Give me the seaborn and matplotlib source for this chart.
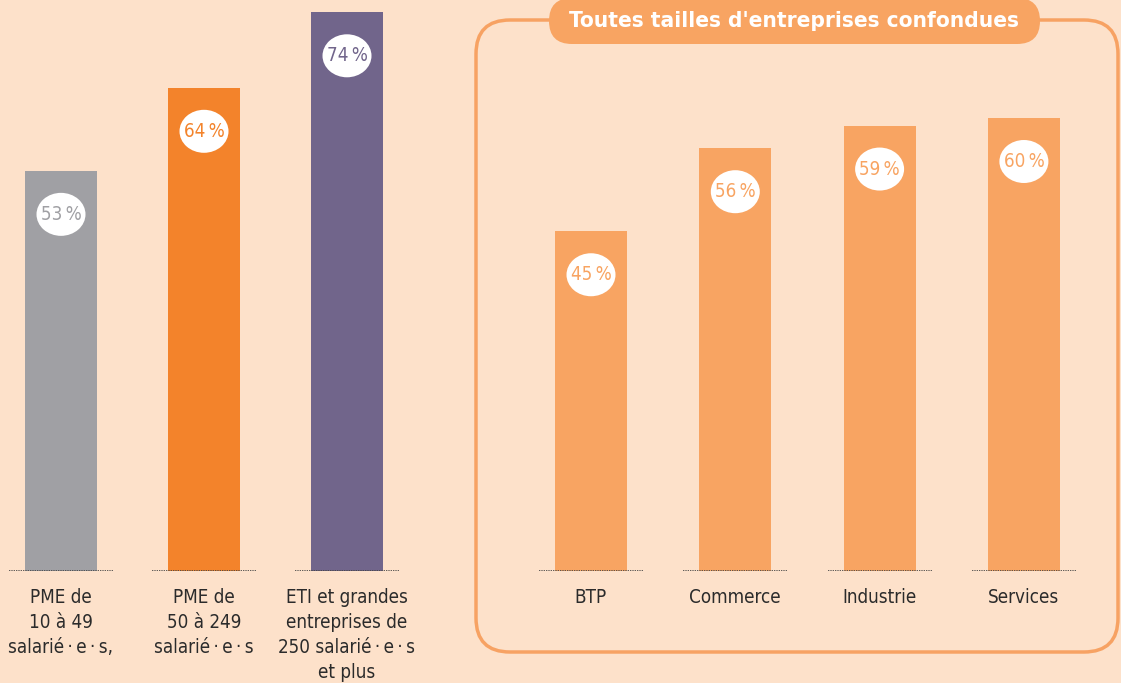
import matplotlib
matplotlib.use("Agg")
from matplotlib import pyplot as plt
from matplotlib.patches import Ellipse, FancyBboxPatch
import seaborn as sns

# left panel: by company size
taille_labels = ["PME de\n10 à 49\nsalarié\u2009·\u2009e\u2009·\u2009s,",
                 "PME de\n50 à 249\nsalarié\u2009·\u2009e\u2009·\u2009s",
                 "ETI et grandes\nentreprises de\n250 salarié\u2009·\u2009e\u2009·\u2009s\net plus"]
taille_values = [53, 64, 74]
taille_colors = ["#A0A0A4", "#F3832B", "#71658B"]

# right panel: by sector
secteur_labels = ["BTP", "Commerce", "Industrie", "Services"]
secteur_values = [45, 56, 59, 60]
secteur_color = "#F8A462"

titre_droite = "Toutes tailles d'entreprises confondues"

BG = "#FDE1CA"
W, H = 1121, 683

sns.set_style("white")
plt.rcParams["font.family"] = ["DejaVu Sans"]
plt.rcParams["font.stretch"] = "condensed"

fig = plt.figure(figsize=(W / 100, H / 100), dpi=100, facecolor=BG)


def px_axes(left, right, top, bottom):
    return fig.add_axes([left / W, 1 - bottom / H, (right - left) / W, (bottom - top) / H])


YMAX = 571 / 7.55


def panel(ax, labels, values, colors, first_center, step, left, right):
    sns.barplot(x=labels, y=values, hue=labels, palette=colors, legend=False,
                width=72 / step, saturation=1, linewidth=0, ax=ax)
    ax.set_xlim((left - first_center) / step, (right - first_center) / step)
    ax.set_ylim(0, YMAX)
    ax.set_facecolor("none")
    sns.despine(ax=ax, left=True, bottom=True)
    ax.set_yticks([])
    ax.set_xlabel("")
    ax.set_ylabel("")
    ax.tick_params(axis="x", length=0, pad=12.5, labelsize=13.5, labelcolor="#2b2b2b")
    for t in ax.get_xticklabels():
        t.set_linespacing(1.4)
    half = 52 / step
    for i, v in enumerate(values):
        ax.hlines(0, i - half, i + half, color="#444444", lw=1.2,
                  linestyle=(0, (0.8, 0.6)), zorder=3)
        cy = v - 43.5 / 7.55
        ax.add_patch(Ellipse((i, cy), 49 / step, 43 / 7.55, facecolor="white",
                             edgecolor="none", zorder=4))
        ax.text(i, cy, f"{v}\u2009%", ha="center", va="center", fontsize=13.5,
                color=colors[i], zorder=5)


ax1 = px_axes(0, 440, 0, 571)
panel(ax1, taille_labels, taille_values, taille_colors, 61, 143, 0, 440)

ax2 = px_axes(480, 1121, 0, 571)
panel(ax2, secteur_labels, secteur_values, [secteur_color] * 4, 591, 144.3, 480, 1121)

# frame and title pill of the right panel, in pixel space
deco = fig.add_axes([0, 0, 1, 1], zorder=-1)
deco.set_xlim(0, W)
deco.set_ylim(H, 0)
deco.axis("off")
deco.patch.set_alpha(0)
deco.add_patch(FancyBboxPatch((476, 20), 642, 632, boxstyle="round,pad=0,rounding_size=34",
                              facecolor="none", edgecolor="#F7A263", lw=2.5))
pill = fig.add_axes([0, 0, 1, 1], zorder=5)
pill.set_xlim(0, W)
pill.set_ylim(H, 0)
pill.axis("off")
pill.patch.set_alpha(0)
pill.add_patch(FancyBboxPatch((549, -2), 491, 46, boxstyle="round,pad=0,rounding_size=23",
                              facecolor="#F8A462", edgecolor="none"))
pill.text(794, 21, titre_droite, ha="center", va="center", fontsize=16.2,
          fontweight="bold", color="white")

fig.savefig("out.png", dpi=100, facecolor=BG)
